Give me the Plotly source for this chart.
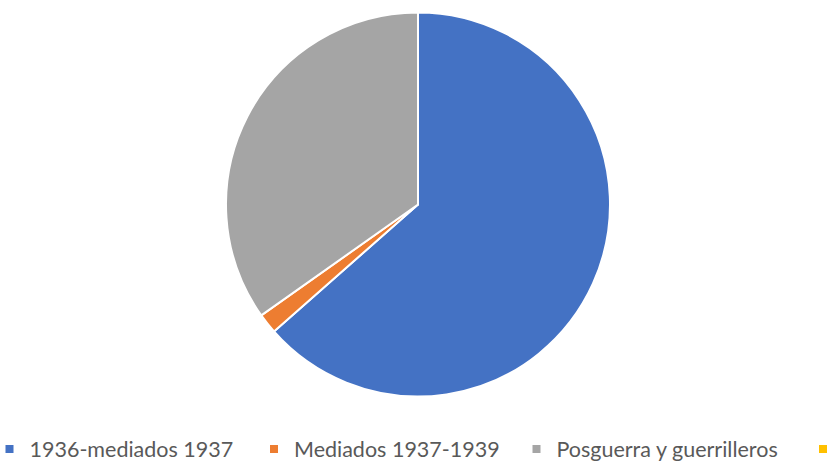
import plotly.graph_objects as go

categories = ["1936-mediados 1937", "Mediados 1937-1939", "Posguerra y guerrilleros", ""]
values = [63.5, 1.7, 34.8, 0]
colors = ["#4472C4", "#ED7D31", "#A5A5A5", "#FFC000"]
legend_ids = ["legend", "legend2", "legend3", "legend4"]
legend_left_px = [-10.5, 254, 516.5, 803]

W, H = 829, 461
MB = 30
HP = H - MB
fig = go.Figure()
fig.add_trace(go.Pie(
    labels=categories, values=values, sort=False, direction="clockwise", rotation=0,
    marker=dict(colors=colors, line=dict(color="white", width=2)),
    textinfo="none", hoverinfo="label+percent", showlegend=False,
    domain=dict(x=[226 / W, 610 / W], y=[(HP - 396.5) / HP, (HP - 12.5) / HP]),
))
for name, c, lg in zip(categories, colors, legend_ids):
    fig.add_trace(go.Scatter(x=[None], y=[None], mode="markers", name=name,
                             marker=dict(symbol="square", size=8, color=c),
                             showlegend=True, legend=lg))

legend_font = dict(family="Lato, Open Sans, sans-serif", size=21.5, color="#595959")
layout_legends = {}
for lg, lx in zip(legend_ids, legend_left_px):
    layout_legends[lg] = dict(orientation="h", x=lx / W, xanchor="left",
                              y=(HP - 449) / HP, yanchor="middle",
                              font=legend_font, itemwidth=30,
                              bgcolor="rgba(0,0,0,0)")

fig.update_layout(
    width=W, height=H, margin=dict(l=0, r=0, t=0, b=MB, autoexpand=False),
    paper_bgcolor="white", plot_bgcolor="white",
    xaxis=dict(visible=False), yaxis=dict(visible=False),
    **layout_legends,
)
fig.write_html("out.html")
